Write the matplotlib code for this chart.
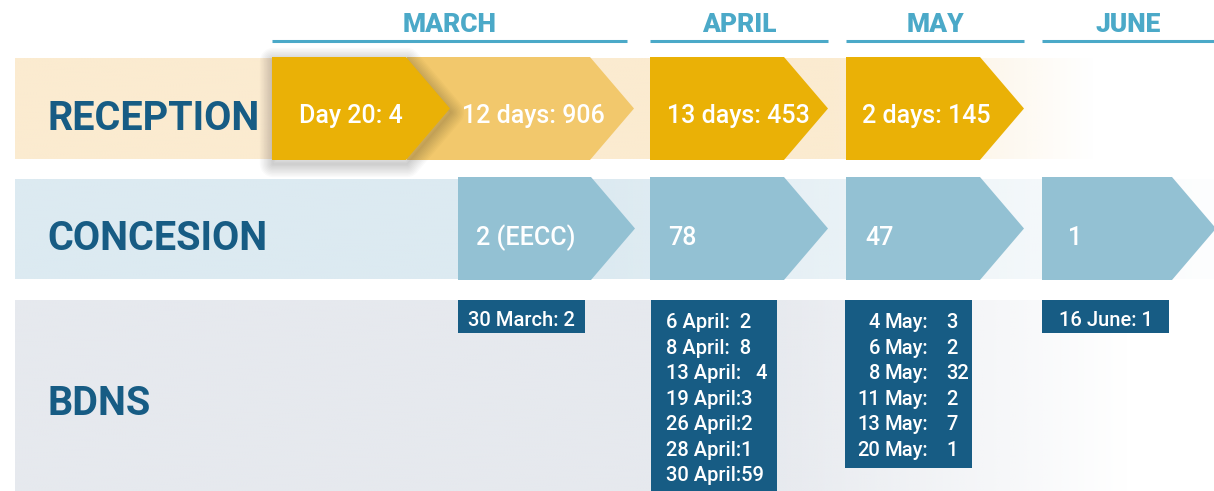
import numpy as np
import matplotlib
matplotlib.use("Agg")
import matplotlib.pyplot as plt
from matplotlib.patches import Polygon, Rectangle
from matplotlib.colors import to_rgb

# data
months = ["MARCH", "APRIL", "MAY", "JUNE"]
rows = ["RECEPTION", "CONCESION", "BDNS"]
reception_labels = ["Day 20: 4", "12 days: 906", "13 days: 453", "2 days: 145"]
concesion_labels = ["2 (EECC)", "78", "47", "1"]
bdns_march = ["30 March: 2"]
bdns_april = ["6 April:  2", "8 April:  8", "13 April:   4", "19 April:3",
              "26 April:2", "28 April:1", "30 April:59"]
bdns_may_days = ["4", "6", "8", "11", "13", "20"]
bdns_may_vals = ["3", "2", "32", "2", "7", "1"]
bdns_june = ["16 June: 1"]

# colours
DARK = "#175C84"
MONTH = "#4BA9C8"
GOLD = "#EAB106"
GOLD_LIGHT = "#F2C86C"
SKY = "#93C1D3"
FONT = "Roboto"

W, H = 1214, 491
fig = plt.figure(figsize=(W / 100, H / 100), dpi=100)
ax = fig.add_axes([0, 0, 1, 1])
ax.set_xlim(0, W)
ax.set_ylim(H, 0)
ax.axis("off")


def band(x0, x1, y0, y1, color, fade0, fade1):
    xs = np.linspace(x0, x1, 400)
    alpha = np.clip((fade1 - xs) / (fade1 - fade0), 0, 1)
    img = np.zeros((1, len(xs), 4))
    img[..., :3] = to_rgb(color)
    img[..., 3] = alpha
    ax.imshow(img, extent=(x0, x1, y1, y0), aspect="auto", zorder=1,
              interpolation="bilinear")


def chevron(x0, xtip, y0, y1, color, z=3, depth=44):
    ym = (y0 + y1) / 2
    pts = [(x0, y0), (xtip - depth, y0), (xtip, ym), (xtip - depth, y1), (x0, y1)]
    p = Polygon(pts, closed=True, facecolor=color, edgecolor="none", zorder=z)
    ax.add_patch(p)
    return pts


# month headers
month_spans = [(272, 627), (650, 828), (846, 1024), (1042, 1214)]
for name, (a, b) in zip(months, month_spans):
    ax.plot([a, b], [41, 41], color=MONTH, lw=2.2, solid_capstyle="butt", zorder=2)
    ax.text((a + b) / 2, 25, name, color=MONTH, fontsize=19, fontweight="black",
            family=FONT, ha="center", va="center")

# background bands
band(15, 1214, 58, 159, "#FBEBD0", 830, 1095)
band(15, 1214, 179, 279, "#DCEAF1", 600, 1250)
band(15, 1214, 300, 491, "#E6E9EE", 760, 1130)

row_y = [119, 239, 404]
for name, y in zip(rows, row_y):
    ax.text(47, y, name, color=DARK, fontsize=28.5, fontweight="bold", family=FONT,
            ha="left", va="center")

# reception chevrons
rec_spans = [(272, 450), (407, 634), (650, 828), (846, 1024)]
rec_colors = [GOLD, GOLD_LIGHT, GOLD, GOLD]
rec_text_x = [351, 533, 738, 926]
for i, ((a, b), c) in enumerate(zip(rec_spans, rec_colors)):
    z = 5 if i == 0 else 3
    pts = chevron(a, b, 57, 160, c, z=z)
    if i == 0:
        for k in range(10):
            ax.add_patch(Polygon([(x + 1, y + 4) for x, y in pts], closed=True,
                                 facecolor="none", edgecolor="black",
                                 lw=1 + k * 2.0, alpha=0.018, joinstyle="round",
                                 zorder=4))
    ax.text(rec_text_x[i], 116, reception_labels[i], color="white", fontsize=18,
            fontweight="medium", family=FONT, ha="center", va="center", zorder=6)

# concesion chevrons
con_spans = [(458, 635), (650, 828), (846, 1024), (1042, 1216)]
con_text_x = [476, 668, 865, 1068]
for (a, b), tx, lab in zip(con_spans, con_text_x, concesion_labels):
    chevron(a, b, 177, 280, SKY)
    ax.text(tx, 238, lab, color="white", fontsize=18, fontweight="medium",
            family=FONT, ha="left", va="center", zorder=6)

# BDNS boxes
line_h = 25.4
y_first = 323
fs = 14.5
ax.add_patch(Rectangle((458, 300), 127, 33, facecolor=DARK, zorder=3))
ax.text(521, 320, bdns_march[0], color="white", fontsize=fs, fontweight="medium",
        family=FONT, ha="center", va="center", zorder=6)

ax.add_patch(Rectangle((651, 300), 126, 195, facecolor=DARK, zorder=3))
for i, lab in enumerate(bdns_april):
    ax.text(666, y_first + i * line_h, lab, color="white", fontsize=fs,
            fontweight="medium", family=FONT, ha="left", va="center", zorder=6)

ax.add_patch(Rectangle((845, 300), 127, 168, facecolor=DARK, zorder=3))
for i, (d, v) in enumerate(zip(bdns_may_days, bdns_may_vals)):
    y = y_first + i * line_h
    ax.text(880, y, d, color="white", fontsize=fs, fontweight="medium",
            family=FONT, ha="right", va="center", zorder=6)
    ax.text(884, y, "May:", color="white", fontsize=fs, fontweight="medium",
            family=FONT, ha="left", va="center", zorder=6)
    ax.text(946, y, v, color="white", fontsize=fs, fontweight="medium",
            family=FONT, ha="left", va="center", zorder=6)

ax.add_patch(Rectangle((1042, 300), 127, 33, facecolor=DARK, zorder=3))
ax.text(1106, 320, bdns_june[0], color="white", fontsize=fs, fontweight="medium",
        family=FONT, ha="center", va="center", zorder=6)

fig.savefig("out.png", dpi=100, facecolor="white")
